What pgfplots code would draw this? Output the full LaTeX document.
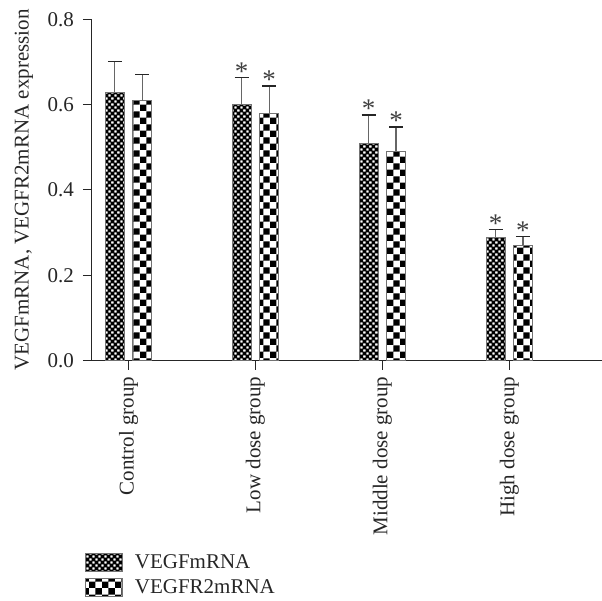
\documentclass[border=0pt]{standalone}
\usepackage{pgfplots}
\pgfplotsset{compat=1.18}
\usepackage{fontspec}
\setmainfont{Liberation Serif}
\usetikzlibrary{patterns}

% fine checkerboard: black with small white squares
\pgfdeclarepatternformonly{finecheck}{\pgfpointorigin}{\pgfqpoint{6.4pt}{6.4pt}}{\pgfqpoint{6.4pt}{6.4pt}}{%
  \pgfpathrectangle{\pgfpointorigin}{\pgfqpoint{6.4pt}{6.4pt}}%
  \pgfpathrectangle{\pgfqpoint{0.35pt}{3.55pt}}{\pgfqpoint{2.5pt}{2.5pt}}%
  \pgfpathrectangle{\pgfqpoint{3.55pt}{0.35pt}}{\pgfqpoint{2.5pt}{2.5pt}}%
  \pgfseteorule\pgfusepath{fill}}
% coarse checkerboard
\pgfdeclarepatternformonly{coarsecheck}{\pgfpointorigin}{\pgfqpoint{12.8pt}{12.8pt}}{\pgfqpoint{12.8pt}{12.8pt}}{%
  \pgfpathrectangle{\pgfpointorigin}{\pgfqpoint{6.4pt}{6.4pt}}%
  \pgfpathrectangle{\pgfqpoint{6.4pt}{6.4pt}}{\pgfqpoint{6.4pt}{6.4pt}}%
  \pgfusepath{fill}}

\newcommand{\chfont}{\fontsize{21}{25}\selectfont}

\begin{document}
\begin{tikzpicture}
\path (-92pt,-240.2pt) rectangle (510pt,360.8pt);
\begin{axis}[
  at={(0pt,0pt)}, anchor=south west,
  x=127pt, y=427pt,
  xmin=-0.288, xmax=3.727,
  ymin=0, ymax=0.8,
  axis x line*=bottom, axis y line*=left,
  axis line style={black!85, line width=0.9pt},
  tick style={black!85, line width=0.9pt},
  tick align=outside,
  major tick length=9pt,
  xtick={0,1,2,3},
  xticklabels={Control group, Low dose group, Middle dose group, High dose group},
  ytick={0,0.2,0.4,0.6,0.8},
  yticklabel style={/pgf/number format/fixed, /pgf/number format/fixed zerofill, /pgf/number format/precision=1},
  /pgf/number format/assume math mode=true,
  tick label style={font=\chfont, text=black!85},
  xticklabel style={rotate=90, anchor=east, inner sep=0pt},
  xticklabel shift=7pt,
  yticklabel style={inner sep=2pt, xshift=-7pt},
  ylabel={VEGFmRNA, VEGFR2mRNA expression},
  ylabel style={font=\chfont, text=black!85, at={([xshift=-68pt]axis description cs:0,0.5)}, anchor=center, rotate=0},
  ybar, bar width=19pt,
  clip=false,
  legend style={at={([xshift=-7pt,yshift=-192pt]axis description cs:0,0)}, anchor=north west,
    draw=none, fill=none, inner sep=0pt, font=\chfont, text=black!85, row sep=5.5pt,
    cells={anchor=west}, /tikz/every odd column/.append style={column sep=10pt}},
  legend image code/.code={\draw[#1] (0pt,-9.25pt) rectangle (37pt,9.25pt);},
  error bars/y dir=plus, error bars/y explicit,
  error bars/error bar style={black!60, line width=1.1pt},
  error bars/error mark options={rotate=90, mark size=7pt, black!85, line width=1.6pt},
]
\addplot[bar shift=-13.7pt, draw=black!55, line width=0.8pt, pattern=finecheck, pattern color=black]
  coordinates {(0,0.629) +- (0,0.072) (1,0.600) +- (0,0.063) (2,0.509) +- (0,0.067) (3,0.289) +- (0,0.018)};
\addlegendentry{VEGFmRNA}
\addplot[bar shift=13.7pt, draw=black!55, line width=0.8pt, pattern=coarsecheck, pattern color=black]
  coordinates {(0,0.609) +- (0,0.061) (1,0.579) +- (0,0.065) (2,0.490) +- (0,0.057) (3,0.270) +- (0,0.021)};
\addlegendentry{VEGFR2mRNA}
% significance asterisks placed above the error-bar caps
\addplot[forget plot, draw=none, fill=none, bar shift=0pt, mark=none,
  nodes near coords={*}, nodes near coords style={font=\fontsize{27}{30}\selectfont, text=black!75, anchor=south, inner sep=1pt, yshift=-4pt}]
  coordinates {(0.892,0.663) (1.108,0.644) (1.892,0.576) (2.108,0.547) (2.892,0.307) (3.108,0.291)};
\end{axis}
\end{tikzpicture}
\end{document}
